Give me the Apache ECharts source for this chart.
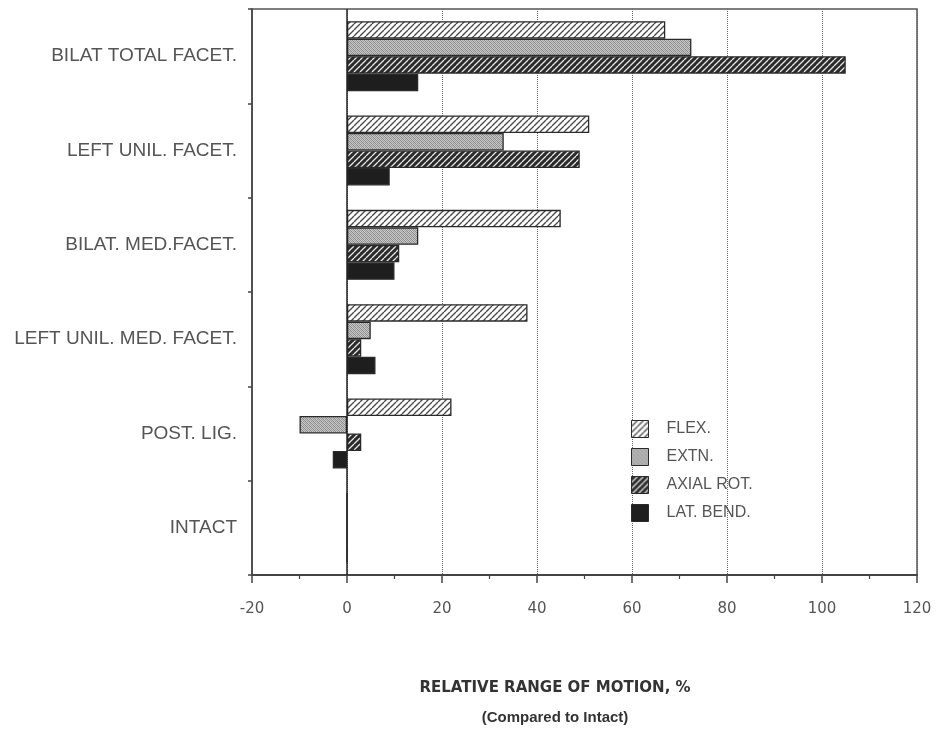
<!DOCTYPE html>
<html>
<head>
<meta charset="utf-8">
<script src="https://cdn.jsdelivr.net/npm/echarts@6/dist/echarts.min.js"></script>
<style>
  html, body { margin: 0; padding: 0; background: #fff; }
  #chart { width: 945px; height: 729px; }
</style>
</head>
<body>
<div id="chart"></div>
<script>
// Injury stages, bottom to top on the category axis
const categories = ['INTACT', 'POST. LIG.', 'LEFT UNIL. MED. FACET.', 'BILAT. MED.FACET.', 'LEFT UNIL. FACET.', 'BILAT TOTAL FACET.'];
const seriesNames = ['FLEX.', 'EXTN.', 'AXIAL ROT.', 'LAT. BEND.'];
// Relative range of motion, % (compared to intact)
const flexValues = [0, 22, 38, 45, 51, 67];
const extnValues = [0, -10, 5, 15, 33, 72.5];
const axialRotValues = [0, 3, 3, 11, 49, 105];
const latBendValues = [0, -3, 6, 10, 9, 15];
const xTicks = [-20, 0, 20, 40, 60, 80, 100, 120];
const axisTitle = 'RELATIVE RANGE OF MOTION, %';
const axisSubtitle = '(Compared to Intact)';

// Fill patterns drawn on small tiles
function hatchTile(bg, fg, size, lw) {
  const c = document.createElement('canvas');
  c.width = size; c.height = size;
  const g = c.getContext('2d');
  g.fillStyle = bg; g.fillRect(0, 0, size, size);
  g.strokeStyle = fg; g.lineWidth = lw;
  g.beginPath();
  for (let k = -1; k <= 1; k++) {
    g.moveTo(k * size, size);
    g.lineTo(k * size + size, 0);
  }
  g.stroke();
  return c;
}
function stippleTile() {
  const c = document.createElement('canvas');
  c.width = 4; c.height = 4;
  const g = c.getContext('2d');
  const shades = [
    ['#8e8e8e', '#cacaca', '#a0a0a0', '#c4c4c4'],
    ['#c6c6c6', '#848484', '#cecece', '#969696'],
    ['#a2a2a2', '#c4c4c4', '#888888', '#c8c8c8'],
    ['#cccccc', '#9a9a9a', '#c0c0c0', '#8c8c8c']
  ];
  for (let y = 0; y < 4; y++) for (let x = 0; x < 4; x++) {
    g.fillStyle = shades[y][x]; g.fillRect(x, y, 1, 1);
  }
  return c;
}

const fills = [
  { image: hatchTile('#ffffff', '#4a4a4a', 6, 1.4), repeat: 'repeat' },
  { image: stippleTile(), repeat: 'repeat' },
  { image: hatchTile('#2a2a2a', '#e8e8e8', 6, 1.3), repeat: 'repeat' },
  '#1e1e1e'
];
const valueSets = [flexValues, extnValues, axialRotValues, latBendValues];

const chart = echarts.init(document.getElementById('chart'), null, { renderer: 'canvas' });

const series = seriesNames.map((name, i) => ({
  name: name,
  type: 'bar',
  data: valueSets[i],
  barWidth: 17.5,
  barGap: '0%',
  itemStyle: { color: fills[i], borderColor: '#2a2a2a', borderWidth: 1.3 },
  emphasis: { disabled: true },
  z: 3
}));
// solid reference line at zero
series[0].markLine = {
  silent: true,
  symbol: 'none',
  label: { show: false },
  lineStyle: { color: '#222', width: 1.5, type: 'solid' },
  data: [{ xAxis: 0 }],
  z: 4
};

chart.setOption({
  animation: false,
  backgroundColor: '#ffffff',
  grid: {
    left: 252, right: 28, top: 9, bottom: 154,
    show: true, borderColor: '#555', borderWidth: 1.5, backgroundColor: 'transparent'
  },
  legend: {
    orient: 'vertical',
    left: 626, top: 415,
    itemWidth: 17, itemHeight: 17, itemGap: 10,
    icon: 'rect',
    data: seriesNames,
    selectedMode: false,
    itemStyle: { borderWidth: 1 },
    textStyle: {
      fontFamily: 'Liberation Sans, Arial, sans-serif',
      fontSize: 16, color: '#555',
      padding: [0, 0, 0, 13]
    }
  },
  xAxis: {
    type: 'value',
    min: -20, max: 120, interval: 20,
    axisLine: { show: true, lineStyle: { color: '#444', width: 2 } },
    axisTick: { show: true, length: 8, lineStyle: { color: '#444', width: 1.5 } },
    minorTick: { show: true, splitNumber: 2, length: 4, lineStyle: { color: '#444', width: 1.2 } },
    splitLine: { show: true, lineStyle: { color: '#666', width: 1, type: 'dotted' } },
    axisLabel: {
      margin: 27,
      fontFamily: 'DejaVu Sans, sans-serif',
      fontSize: 15, color: '#555',
      formatter: v => (xTicks.indexOf(v) >= 0 ? String(v) : '')
    }
  },
  yAxis: {
    type: 'category',
    data: categories,
    axisLine: { show: true, onZero: false, lineStyle: { color: '#444', width: 1.5 } },
    axisTick: { show: true, length: 4, lineStyle: { color: '#444', width: 1.5 } },
    splitLine: { show: false },
    axisLabel: {
      margin: 15,
      padding: [6, 0, 0, 0],
      fontFamily: 'Liberation Sans, Arial, sans-serif',
      fontSize: 19, color: '#555'
    }
  },
  graphic: [
    {
      type: 'text', x: 555, y: 688,
      style: {
        text: axisTitle,
        align: 'center', verticalAlign: 'middle',
        fill: '#333',
        font: 'bold 15px "DejaVu Sans", sans-serif'
      }
    },
    {
      type: 'text', x: 555, y: 718,
      style: {
        text: axisSubtitle,
        align: 'center', verticalAlign: 'middle',
        fill: '#333',
        font: 'bold 15px "Liberation Sans", Arial, sans-serif'
      }
    }
  ],
  series: series
});
</script>
</body>
</html>
